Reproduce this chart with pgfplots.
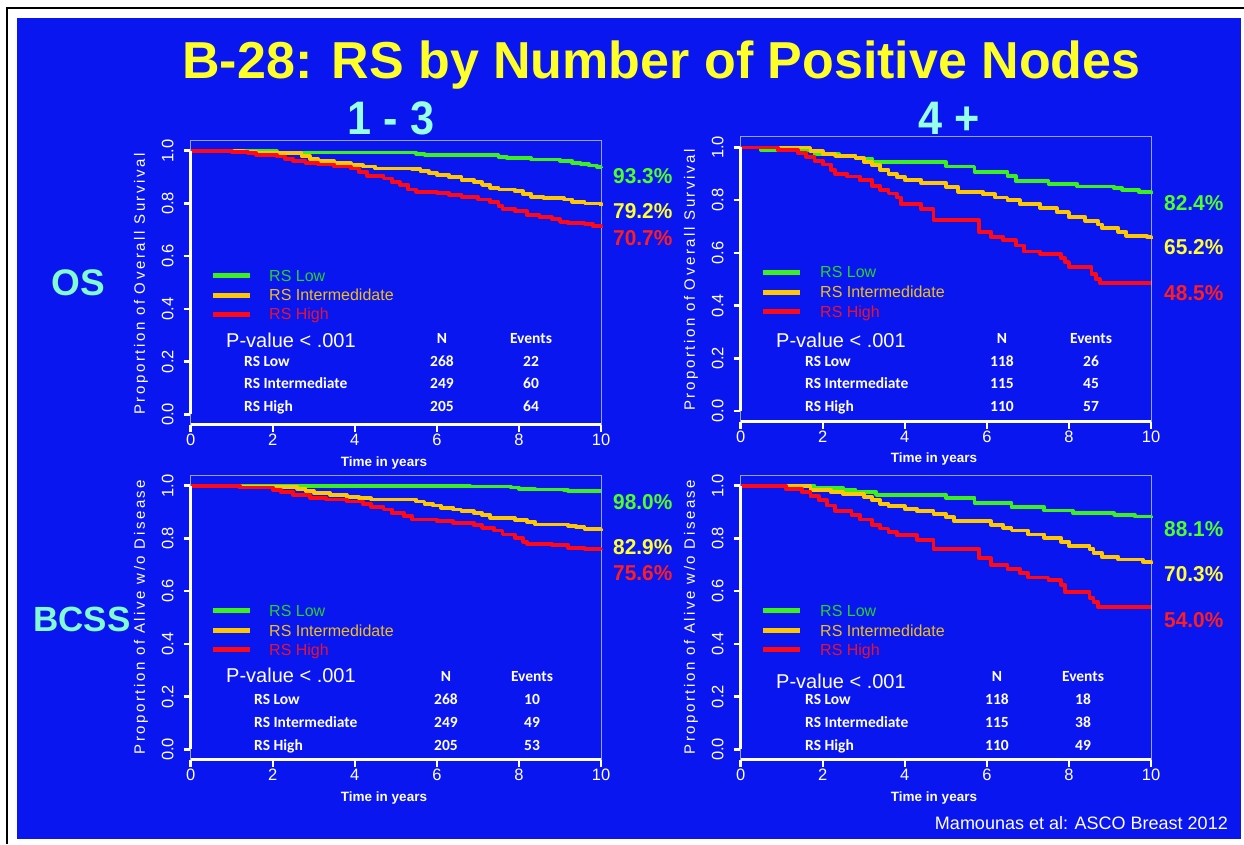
\documentclass[border=0pt]{standalone}
\usepackage{pgfplots}
\pgfplotsset{compat=1.18}
\usepackage{fontspec}
\setmainfont{Liberation Sans}
\newfontfamily\carl{Carlito}
\newfontfamily\spaced[LetterSpace=17]{Liberation Sans}
\newcommand\fs[1]{\fontsize{#1pt}{#1pt}\selectfont}
\definecolor{bg}{RGB}{10,22,240}
\definecolor{boxc}{RGB}{150,165,235}
\definecolor{cg}{RGB}{60,240,30}
\definecolor{cy}{RGB}{255,200,0}
\definecolor{cr}{RGB}{255,10,20}
\definecolor{tg}{RGB}{40,210,40}
\definecolor{ty}{RGB}{240,190,30}
\definecolor{tr}{RGB}{230,20,50}
\definecolor{pg}{RGB}{80,255,40}
\definecolor{py}{RGB}{255,255,50}
\definecolor{pr}{RGB}{255,30,30}
\definecolor{titley}{RGB}{255,255,40}
\definecolor{cyan1}{RGB}{150,255,230}
\definecolor{cyan2}{RGB}{130,250,210}
\pgfplotsset{
 km/.style={
  scale only axis, width=410.3pt, height=284.7pt,
  xmin=0, xmax=10, ymin=-0.04, ymax=1.04,
  axis line style={draw=boxc, line width=1pt},
  xtick={0,2,4,6,8,10}, ytick={0,0.2,0.4,0.6,0.8,1},
  xtick pos=left, ytick pos=left,
  tick align=outside, major tick length=7pt,
  tick style={white, line width=2.5pt},
  tick label style={white, font=\fs{16.5}, inner sep=0pt},
  /pgf/number format/assume math mode=true,
  yticklabel style={rotate=90, anchor=south, /pgf/number format/fixed, /pgf/number format/fixed zerofill, /pgf/number format/precision=1},
  xticklabel style={anchor=north},
  yticklabel shift=10pt, xticklabel shift=2pt,
  clip=false,
  every axis plot/.append style={const plot, line width=3.8pt, line join=round},
 },
 legl/.style={line width=5pt},
}
\newcommand\axlines{%
  \draw[white, line width=3pt] (axis cs:0,0) -- (axis cs:0,1);
  \draw[white, line width=3pt] (axis cs:0,-0.04) -- (axis cs:10,-0.04);
  \addplot[draw=cg, legl] coordinates {(0.54,0.525) (1.45,0.525)};
  \addplot[draw=cy, legl] coordinates {(0.54,0.451) (1.45,0.451)};
  \addplot[draw=cr, legl] coordinates {(0.54,0.377) (1.45,0.377)};
}
\begin{document}
\begin{tikzpicture}
\useasboundingbox (0,0) rectangle (1244pt,844pt);
\fill[white] (0,0) rectangle (1244pt,844pt);
\draw[black, line width=1.5pt] (7pt,0pt) -- (7pt,836pt) -- (1244pt,836pt);
\fill[bg] (17pt,5pt) rectangle (1241pt,826pt);

% ---------- top-left: OS, 1-3 nodes
\begin{axis}[km, at={(190.7pt,419.1pt)}, anchor=south west]
\addplot[draw=cg] coordinates {(0,1) (1.3,0.998) (2.1,0.993) (5.5,0.988) (5.7,0.985) (6.6,0.983) (7.5,0.977) (7.7,0.972) (8.3,0.967) (9.0,0.962) (9.3,0.955) (9.5,0.95) (9.7,0.944) (9.9,0.938) (10,0.933)};
\addplot[draw=cy] coordinates {(0,1) (1.3,0.997) (1.6,0.99) (2.7,0.98) (2.9,0.97) (3.1,0.96) (3.5,0.953) (3.9,0.945) (4.2,0.94) (4.5,0.933) (5.4,0.93) (5.6,0.922) (5.8,0.915) (6.0,0.908) (6.3,0.9) (6.6,0.89) (6.9,0.88) (7.1,0.87) (7.3,0.86) (7.5,0.853) (7.9,0.846) (8.1,0.835) (8.3,0.826) (8.6,0.82) (9.1,0.815) (9.3,0.806) (9.6,0.8) (10,0.792)};
\addplot[draw=cr] coordinates {(0,1) (1.0,0.995) (1.4,0.99) (1.6,0.985) (2.1,0.978) (2.3,0.97) (2.5,0.962) (2.8,0.955) (3.1,0.948) (3.5,0.94) (3.9,0.933) (4.1,0.92) (4.3,0.905) (4.7,0.895) (4.9,0.88) (5.1,0.87) (5.3,0.853) (5.5,0.845) (6.0,0.84) (6.3,0.833) (6.6,0.826) (7.0,0.815) (7.3,0.805) (7.5,0.79) (7.6,0.78) (7.9,0.77) (8.2,0.755) (8.5,0.748) (8.8,0.74) (9.0,0.73) (9.2,0.725) (9.6,0.722) (9.8,0.715) (10,0.707)};
\axlines
\end{axis}

% ---------- top-right: OS, 4+ nodes
\begin{axis}[km, at={(740.7pt,422.4pt)}, anchor=south west]
\addplot[draw=cg] coordinates {(0,1) (0.5,0.99) (1.7,0.985) (1.8,0.975) (2.4,0.967) (2.8,0.958) (3.2,0.945) (5.0,0.928) (5.7,0.908) (6.5,0.892) (6.7,0.872) (7.5,0.862) (8.2,0.852) (9.1,0.845) (9.3,0.84) (9.7,0.832) (10,0.824)};
\addplot[draw=cy] coordinates {(0,1) (1.7,0.985) (2.0,0.975) (2.3,0.968) (2.8,0.96) (3.0,0.945) (3.2,0.932) (3.4,0.915) (3.6,0.9) (3.8,0.888) (4.0,0.876) (4.4,0.865) (5.0,0.85) (5.3,0.832) (5.9,0.822) (6.2,0.81) (6.5,0.8) (6.8,0.785) (7.3,0.77) (7.7,0.755) (8.0,0.735) (8.4,0.722) (8.7,0.708) (8.8,0.695) (9.2,0.68) (9.4,0.665) (9.9,0.66) (10,0.652)};
\addplot[draw=cr] coordinates {(0,1) (0.9,0.99) (1.4,0.978) (1.6,0.965) (1.8,0.95) (2.0,0.935) (2.2,0.915) (2.3,0.9) (2.6,0.89) (2.9,0.875) (3.2,0.855) (3.4,0.84) (3.6,0.825) (3.8,0.81) (3.9,0.785) (4.4,0.765) (4.7,0.725) (5.8,0.68) (6.1,0.66) (6.4,0.648) (6.7,0.628) (6.9,0.605) (7.3,0.597) (7.8,0.58) (7.9,0.565) (8.0,0.545) (8.55,0.52) (8.65,0.5) (8.75,0.485) (10,0.485)};
\axlines
\end{axis}

% ---------- bottom-left: BCSS, 1-3 nodes
\begin{axis}[km, at={(190.7pt,84.1pt)}, anchor=south west]
\addplot[draw=cg] coordinates {(0,1) (6.8,0.997) (7.8,0.993) (8.0,0.988) (8.4,0.986) (9.1,0.983) (9.2,0.98) (10,0.98)};
\addplot[draw=cy] coordinates {(0,1) (1.2,0.996) (2.6,0.988) (2.8,0.98) (3.0,0.972) (3.4,0.965) (3.8,0.958) (4.1,0.952) (4.4,0.948) (5.5,0.94) (5.7,0.932) (5.9,0.925) (6.1,0.917) (6.4,0.91) (6.6,0.903) (6.9,0.896) (7.1,0.888) (7.3,0.878) (7.9,0.87) (8.2,0.862) (8.4,0.853) (9.2,0.848) (9.4,0.842) (9.6,0.836) (10,0.829)};
\addplot[draw=cr] coordinates {(0,1) (1.2,0.993) (2.0,0.985) (2.2,0.975) (2.5,0.965) (2.9,0.955) (3.3,0.948) (3.8,0.94) (4.2,0.93) (4.4,0.92) (4.7,0.91) (4.9,0.897) (5.2,0.885) (5.4,0.872) (6.0,0.867) (6.4,0.86) (6.9,0.85) (7.1,0.84) (7.4,0.83) (7.6,0.815) (7.9,0.802) (8.1,0.788) (8.2,0.78) (8.8,0.775) (9.2,0.765) (9.6,0.76) (10,0.756)};
\axlines
\end{axis}

% ---------- bottom-right: BCSS, 4+ nodes
\begin{axis}[km, at={(740.7pt,84.1pt)}, anchor=south west]
\addplot[draw=cg] coordinates {(0,1) (1.8,0.992) (2.5,0.985) (2.8,0.977) (3.3,0.965) (5.0,0.954) (5.7,0.935) (6.6,0.918) (7.4,0.906) (8.1,0.896) (9.1,0.889) (9.6,0.883) (10,0.881)};
\addplot[draw=cy] coordinates {(0,1) (1.2,0.998) (1.7,0.985) (2.2,0.975) (2.5,0.968) (3.0,0.958) (3.2,0.945) (3.4,0.932) (3.6,0.922) (4.0,0.912) (4.3,0.903) (4.7,0.893) (5.0,0.88) (5.2,0.865) (6.1,0.852) (6.4,0.84) (6.6,0.83) (7.0,0.815) (7.4,0.803) (7.8,0.788) (8.0,0.772) (8.5,0.76) (8.6,0.745) (8.8,0.73) (9.2,0.72) (9.8,0.712) (10,0.703)};
\addplot[draw=cr] coordinates {(0,1) (1.1,0.987) (1.5,0.975) (1.7,0.96) (1.9,0.945) (2.1,0.925) (2.3,0.905) (2.7,0.89) (2.9,0.872) (3.2,0.852) (3.4,0.838) (3.6,0.825) (3.8,0.812) (4.3,0.795) (4.7,0.76) (5.8,0.725) (6.1,0.7) (6.5,0.685) (6.8,0.67) (7.0,0.652) (7.5,0.642) (7.8,0.625) (7.9,0.598) (8.5,0.575) (8.6,0.56) (8.7,0.54) (10,0.54)};
\axlines
\end{axis}

% ---------- titles
\node[anchor=base, text=titley, inner sep=0pt] at (661.5pt,{844pt-79pt}) {\fs{52}\bfseries B-28: RS by Number of Positive Nodes};
\node[anchor=base, text=cyan1, inner sep=0pt] at (391pt,{844pt-135pt}) {\scalebox{0.92}[1]{\fs{47}\bfseries 1 - 3}};
\node[anchor=base, text=cyan1, inner sep=0pt] at (949pt,{844pt-135pt}) {\scalebox{0.92}[1]{\fs{47}\bfseries 4 +}};
\node[text=cyan2, inner sep=0pt] at (78pt,{844pt-283pt}) {\fs{37}\bfseries OS};
\node[text=cyan2, inner sep=0pt] at (82pt,{844pt-619pt}) {\fs{35}\bfseries BCSS};

% ---------- axis titles
\foreach \x/\y/\t in {141/284/{Proportion of Overall Survival}, 691/280/{Proportion of Overall Survival}, 141/617/{Proportion of Alive w/o Disease}, 691/617/{Proportion of Alive w/o Disease}}
  \node[rotate=90, text=white, inner sep=0pt] at (\x pt,{844pt-\y pt}) {\spaced\fs{15}\t};
\foreach \x/\y in {384/463, 934/459, 384/798, 934/798}
  \node[text=white, inner sep=0pt] at (\x pt,{844pt-\y pt}) {\fs{13.5}\bfseries Time in years};

% ---------- legends text
\foreach \x/\ya/\yb/\yc in {269/281.4/300.7/320, 820/277.7/297.7/317.7, 269/616.7/636.7/655.7, 820/616.7/636.7/655.7}{
  \node[anchor=base west, text=tg, inner sep=0pt] at (\x pt,{844pt-\ya pt}) {\fs{16}RS Low};
  \node[anchor=base west, text=ty, inner sep=0pt] at (\x pt,{844pt-\yb pt}) {\fs{16}RS Intermedidate};
  \node[anchor=base west, text=tr, inner sep=0pt] at (\x pt,{844pt-\yc pt}) {\fs{16}RS High};
}
% ---------- p-values
\foreach \x/\y in {226/347.2, 776/347.2, 226/682, 776/688}
  \node[anchor=base west, text=white, inner sep=0pt] at (\x pt,{844pt-\y pt}) {\fs{20}P-value < .001};

% ---------- tables
\foreach \lx/\nx/\ex/\yh/\ya/\yb/\yc/\na/\nb/\nc/\ea/\eb/\ec in {
  244/442/531/343.8/366.8/388.8/411.8/268/249/205/22/60/64,
  805/1002/1091/343.8/366.8/388.8/411.8/118/115/110/26/45/57,
  254/446/532/681.8/704.8/727.8/750.8/268/249/205/10/49/53,
  805/997/1083/681.8/704.8/727.8/750.8/118/115/110/18/38/49}{
  \node[anchor=base, text=white, inner sep=0pt] at (\nx pt,{844pt-\yh pt}) {\carl\fs{15.5}\bfseries N};
  \node[anchor=base, text=white, inner sep=0pt] at (\ex pt,{844pt-\yh pt}) {\carl\fs{15.5}\bfseries Events};
  \node[anchor=base west, text=white, inner sep=0pt] at (\lx pt,{844pt-\ya pt}) {\carl\fs{15.5}\bfseries RS Low};
  \node[anchor=base west, text=white, inner sep=0pt] at (\lx pt,{844pt-\yb pt}) {\carl\fs{15.5}\bfseries RS Intermediate};
  \node[anchor=base west, text=white, inner sep=0pt] at (\lx pt,{844pt-\yc pt}) {\carl\fs{15.5}\bfseries RS High};
  \node[anchor=base, text=white, inner sep=0pt] at (\nx pt,{844pt-\ya pt}) {\carl\fs{15.5}\bfseries \na};
  \node[anchor=base, text=white, inner sep=0pt] at (\nx pt,{844pt-\yb pt}) {\carl\fs{15.5}\bfseries \nb};
  \node[anchor=base, text=white, inner sep=0pt] at (\nx pt,{844pt-\yc pt}) {\carl\fs{15.5}\bfseries \nc};
  \node[anchor=base, text=white, inner sep=0pt] at (\ex pt,{844pt-\ya pt}) {\carl\fs{15.5}\bfseries \ea};
  \node[anchor=base, text=white, inner sep=0pt] at (\ex pt,{844pt-\yb pt}) {\carl\fs{15.5}\bfseries \eb};
  \node[anchor=base, text=white, inner sep=0pt] at (\ex pt,{844pt-\yc pt}) {\carl\fs{15.5}\bfseries \ec};
}

% ---------- end percentages
\foreach \x/\y/\c/\t in {613/183.5/pg/93.3, 613/218.5/py/79.2, 613/245.5/pr/70.7,
  1164/210.5/pg/82.4, 1164/254.5/py/65.2, 1164/300.5/pr/48.5,
  613/509.5/pg/98.0, 613/554.5/py/82.9, 613/580.5/pr/75.6,
  1164/536.5/pg/88.1, 1164/581.5/py/70.3, 1164/627.5/pr/54.0}
  \node[anchor=base west, text=\c, inner sep=0pt] at (\x pt,{844pt-\y pt}) {\scalebox{0.97}[1]{\fs{21.5}\bfseries \t\%}};

% ---------- footer
\node[anchor=base east, text=white, inner sep=0pt] at (1228pt,{844pt-829pt}) {\fs{18}Mamounas et al: ASCO Breast 2012};
\end{tikzpicture}
\end{document}
